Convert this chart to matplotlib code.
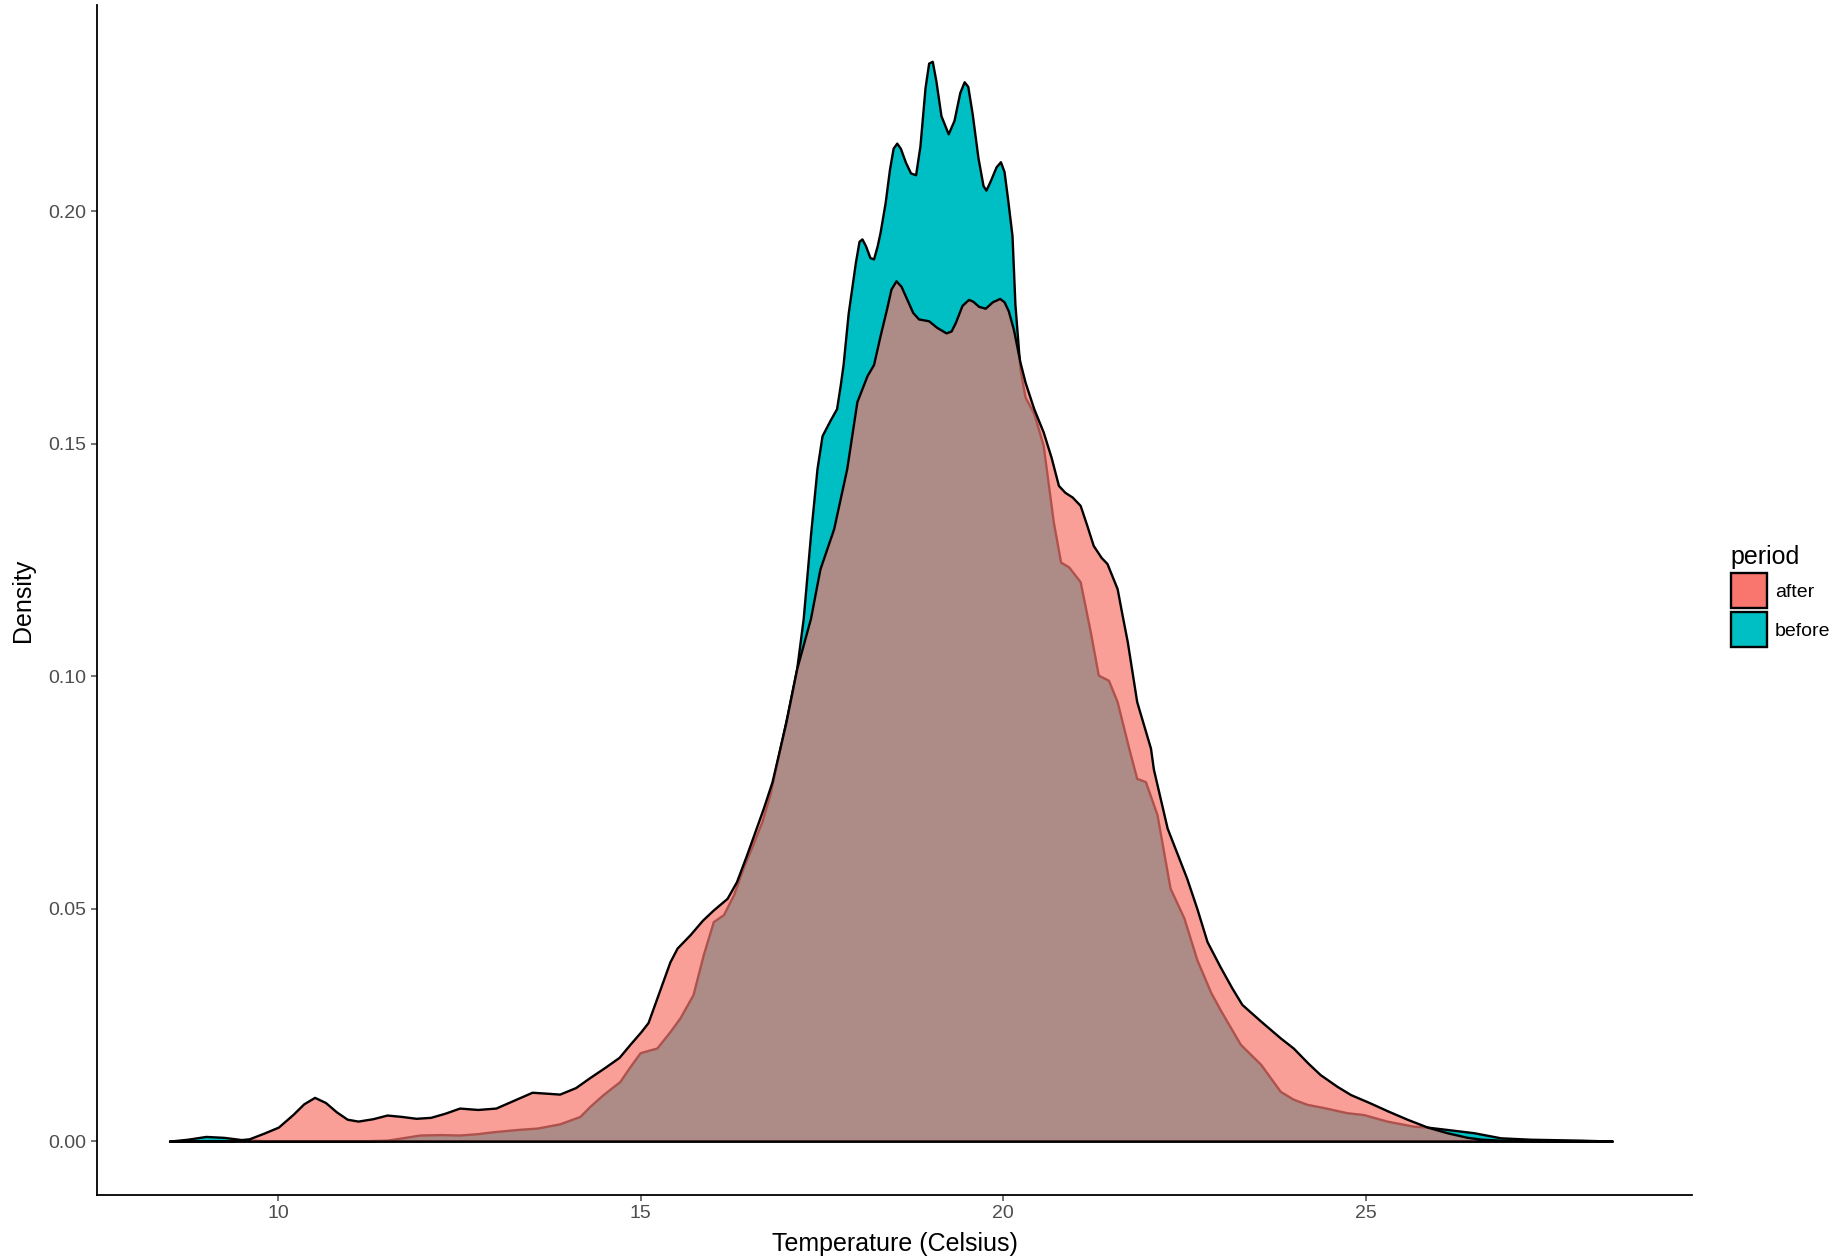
import matplotlib as mpl
mpl.use("Agg")
import matplotlib.pyplot as plt
from matplotlib.colors import to_rgba
from matplotlib.patches import Patch

plt.rcParams["font.family"] = ["Liberation Sans", "DejaVu Sans"]

# density curves (temperature in Celsius, density)
after_x = [8.5, 9.3, 9.6, 9.8, 10.0, 10.2, 10.35, 10.5, 10.65, 10.8, 10.95, 11.1,
           11.3, 11.5, 11.7, 11.9, 12.1, 12.3, 12.5, 12.75, 13.0, 13.25, 13.5,
           13.7, 13.88, 14.1, 14.3, 14.5, 14.7, 14.85, 15.0, 15.1, 15.25, 15.4,
           15.5, 15.68, 15.85, 16.0, 16.19, 16.32, 16.46, 16.55, 16.69, 16.81,
           17.0, 17.15, 17.34, 17.47, 17.66, 17.84, 17.98, 18.12, 18.21, 18.3,
           18.39, 18.45, 18.52, 18.59, 18.67, 18.75, 18.83, 18.97, 19.08, 19.21,
           19.28, 19.34, 19.43, 19.52, 19.58, 19.66, 19.75, 19.85, 19.95, 20.01,
           20.07, 20.14, 20.23, 20.3, 20.42, 20.55,
           20.66, 20.76, 20.85, 20.95, 21.06, 21.15, 21.24, 21.35, 21.43, 21.57,
           21.64, 21.71, 21.84, 22.03, 22.07, 22.26, 22.53, 22.67, 22.81, 22.99,
           23.15, 23.29, 23.55, 23.82, 24.0, 24.2, 24.37, 24.6, 24.79, 25.06,
           25.3, 25.57, 25.85, 26.12, 26.4, 26.6, 26.86, 27.5, 28.4]
after_y = [0.0, 0.0, 0.0005, 0.0017, 0.003, 0.0057, 0.008, 0.0094, 0.0083, 0.0063,
           0.0047, 0.0043, 0.0048, 0.0056, 0.0053, 0.0049, 0.0051, 0.006, 0.0071,
           0.0068, 0.0071, 0.0088, 0.0105, 0.0103, 0.0101, 0.0115, 0.0137, 0.0158,
           0.018, 0.0208, 0.0235, 0.0255, 0.032, 0.0385, 0.0415, 0.0444, 0.0475,
           0.0497, 0.0522, 0.0558, 0.0616, 0.0655, 0.0716, 0.0773, 0.09, 0.1016,
           0.1124, 0.123, 0.1317, 0.1446, 0.159, 0.1646, 0.167, 0.1732, 0.179,
           0.1832, 0.185, 0.1838, 0.181, 0.1782, 0.1768, 0.1764, 0.175, 0.1738,
           0.1742, 0.1761, 0.1797, 0.181, 0.1806, 0.1795, 0.1791, 0.1805, 0.1812,
           0.1805, 0.1785, 0.1745, 0.1675, 0.1632, 0.1575,
           0.1525, 0.147, 0.141, 0.1395, 0.1385, 0.1367, 0.1325, 0.1281, 0.1255,
           0.1242, 0.1188, 0.113, 0.1074, 0.0945, 0.0845, 0.080, 0.0673, 0.0565,
           0.05, 0.0429, 0.0375, 0.033, 0.0294, 0.0258, 0.0222, 0.020, 0.0168,
           0.0143, 0.0118, 0.010, 0.0082, 0.0065, 0.0047, 0.003, 0.0018, 0.0008,
           0.0004, 0.0002, 0.0001, 0.0]

before_x = [8.5, 8.75, 9.0, 9.25, 9.5, 9.8, 10.5, 11.0, 11.5, 11.75, 11.95, 12.25,
            12.5, 12.75, 12.96, 13.3, 13.57, 13.88, 14.16, 14.3, 14.48, 14.71,
            14.85, 14.99, 15.1, 15.22, 15.4, 15.54, 15.72, 15.86, 16.0, 16.14,
            16.28, 16.41, 16.55, 16.67, 16.78, 17.01, 17.15, 17.24, 17.34, 17.43,
            17.5, 17.61, 17.7, 17.75, 17.79, 17.86, 17.96, 18.01, 18.05, 18.1,
            18.16, 18.21, 18.26, 18.3, 18.37, 18.43, 18.48, 18.53, 18.58, 18.65,
            18.72, 18.79, 18.85, 18.92, 18.97, 19.02, 19.07, 19.14, 19.24, 19.32,
            19.4, 19.46, 19.51, 19.57, 19.65, 19.72, 19.76, 19.82, 19.9, 19.96,
            20.01, 20.06, 20.12, 20.16, 20.23, 20.3,
            20.42, 20.55, 20.69, 20.79, 20.9, 21.06, 21.2, 21.31, 21.45, 21.57,
            21.73, 21.84, 21.96, 22.12, 22.3, 22.49, 22.67, 22.86, 23.0, 23.27,
            23.55, 23.82, 24.0, 24.19, 24.42, 24.74, 24.97, 25.29, 25.66, 25.85,
            26.12, 26.49, 26.86, 27.27, 27.96, 28.4]
before_y = [0.0, 0.0004, 0.001, 0.0008, 0.0003, 0.0001, 0.0, 0.0, 0.0002, 0.0008,
            0.0013, 0.0014, 0.0013, 0.0016, 0.002, 0.0025, 0.0028, 0.0037, 0.0053,
            0.0075, 0.010, 0.0128, 0.016, 0.019, 0.0195, 0.020, 0.0235, 0.0265,
            0.0315, 0.040, 0.0472, 0.0487, 0.053, 0.0587, 0.064, 0.0687, 0.0745,
            0.0909, 0.1016, 0.1124, 0.1303, 0.1446, 0.1517, 0.155, 0.1575, 0.1625,
            0.167, 0.178, 0.189, 0.1935, 0.194, 0.1925, 0.190, 0.1897, 0.1925,
            0.1954, 0.2018, 0.209, 0.2135, 0.2146, 0.2135, 0.2105, 0.2082, 0.2078,
            0.214, 0.2265, 0.2318, 0.2322, 0.228, 0.2205, 0.2166, 0.2195, 0.2255,
            0.2278, 0.2268, 0.221, 0.2115, 0.2055, 0.2045, 0.2065, 0.2095, 0.2106,
            0.2085, 0.2025, 0.1947, 0.180, 0.166, 0.160,
            0.1565, 0.1496, 0.1331, 0.1245, 0.1235, 0.1203, 0.1095, 0.1002, 0.0991,
            0.0945, 0.0845, 0.078, 0.0773, 0.0702, 0.0544, 0.048, 0.039, 0.032,
            0.028, 0.0208, 0.0165, 0.0107, 0.009, 0.0079, 0.0072, 0.0061, 0.0057,
            0.0043, 0.0032, 0.003, 0.0025, 0.0018, 0.0007, 0.0004, 0.0002, 0.0]

x_ticks = [10, 15, 20, 25]
y_ticks = [0.00, 0.05, 0.10, 0.15, 0.20]

C_AFTER = "#F8766D"
C_BEFORE = "#00BFC4"

fig = plt.figure(figsize=(18.35, 12.57), dpi=100)
ax = fig.add_axes([0.0529, 0.0493, 0.8692, 0.9467])

ax.fill_between(before_x, before_y, 0, facecolor=C_BEFORE, edgecolor="black",
                linewidth=1.7, zorder=2)
ax.fill_between(after_x, after_y, 0, facecolor=to_rgba(C_AFTER, 0.7),
                edgecolor="black", linewidth=1.7, zorder=3)

ax.set_xlim(7.5, 29.5)
ax.set_ylim(-0.0116, 0.2443)
ax.set_xticks(x_ticks)
ax.set_yticks(y_ticks)
ax.set_yticklabels([f"{v:.2f}" for v in y_ticks])
ax.tick_params(colors="#4D4D4D", labelsize=14, length=4, width=1.1)
for s in ("top", "right"):
    ax.spines[s].set_visible(False)
for s in ("left", "bottom"):
    ax.spines[s].set_linewidth(1.3)
    ax.spines[s].set_color("black")

ax.set_xlabel("Temperature (Celsius)", fontsize=18, labelpad=7)
ax.set_ylabel("Density", fontsize=18, labelpad=10)

handles = [Patch(facecolor=C_AFTER, edgecolor="black", linewidth=1.7),
           Patch(facecolor=C_BEFORE, edgecolor="black", linewidth=1.7)]
fig.legend(handles, ["after", "before"], title="period", loc="upper left",
           bbox_to_anchor=(0.938, 0.574), frameon=False, fontsize=14,
           title_fontsize=18, handlelength=1.85, handleheight=2.4,
           labelspacing=0.2, handletextpad=0.4, borderpad=0, alignment="left")

fig.savefig("out.png", dpi=100)
